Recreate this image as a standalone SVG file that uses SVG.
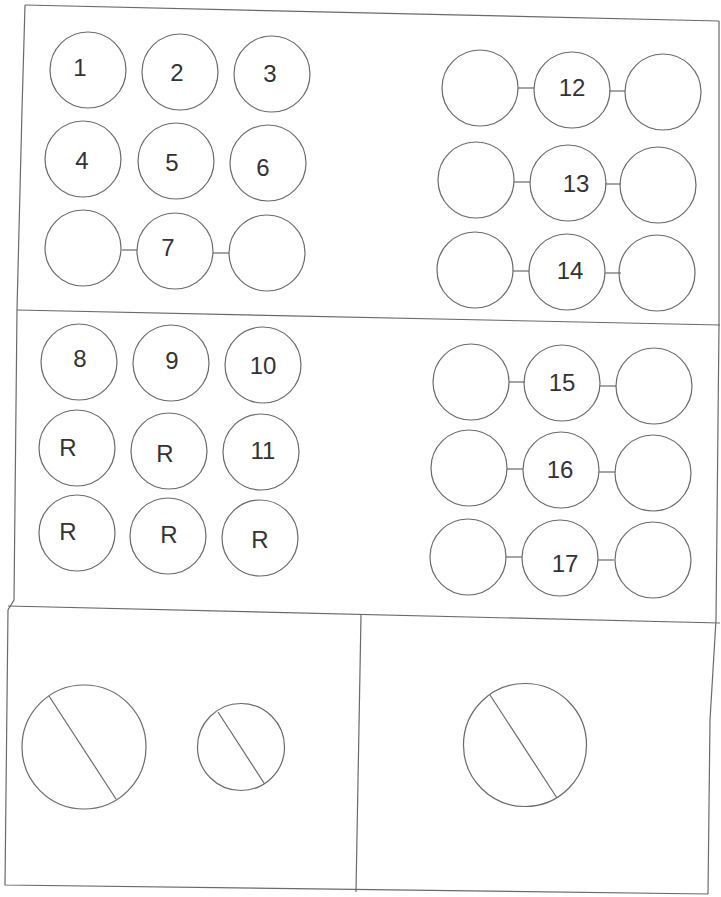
<svg xmlns="http://www.w3.org/2000/svg" width="721" height="897" viewBox="0 0 721 897">
<style>
.c{fill:none;stroke:#6a6a6a;stroke-width:1.2}
.l{fill:none;stroke:#6a6a6a;stroke-width:1.2}
.t{font-family:"Liberation Sans",Arial,sans-serif;font-size:24px;fill:#333;text-anchor:middle}
</style>
<rect width="721" height="897" fill="#fff"/>
<g id="frame">
<polyline class="l" points="25,5 719,21"/>
<polyline class="l" points="25,5 22,110 17,310 14,600 8,610 5,885 708,894"/>
<polyline class="l" points="719,21 719,325 716,620 710,720 708,894"/>
<polyline class="l" points="17,310 720,325"/>
<polyline class="l" points="8,606 720,623"/>
<polyline class="l" points="361,615 356,892"/>
</g>
<g id="connectors">
<line class="l" x1="122" y1="250" x2="137" y2="250"/>
<line class="l" x1="213" y1="253" x2="229" y2="253"/>
<line class="l" x1="518" y1="88" x2="534" y2="88"/>
<line class="l" x1="609" y1="91" x2="625" y2="91"/>
<line class="l" x1="514" y1="182" x2="530" y2="182"/>
<line class="l" x1="605" y1="184" x2="621" y2="184"/>
<line class="l" x1="513" y1="271" x2="529" y2="271"/>
<line class="l" x1="605" y1="273" x2="621" y2="273"/>
<line class="l" x1="509" y1="382" x2="525" y2="382"/>
<line class="l" x1="600" y1="386" x2="616" y2="386"/>
<line class="l" x1="507" y1="469" x2="523" y2="469"/>
<line class="l" x1="599" y1="472" x2="615" y2="472"/>
<line class="l" x1="506" y1="557" x2="522" y2="557"/>
<line class="l" x1="598" y1="560" x2="614" y2="560"/>
</g>
<g id="n1"><circle class="c" cx="88" cy="70" r="38"/><text class="t" x="80" y="76">1</text></g>
<g id="n2"><circle class="c" cx="180" cy="72" r="38"/><text class="t" x="177" y="81">2</text></g>
<g id="n3"><circle class="c" cx="272" cy="74" r="38"/><text class="t" x="270" y="82">3</text></g>
<g id="n4"><circle class="c" cx="83" cy="159" r="38"/><text class="t" x="82" y="169">4</text></g>
<g id="n5"><circle class="c" cx="176" cy="161" r="38"/><text class="t" x="172" y="171">5</text></g>
<g id="n6"><circle class="c" cx="268" cy="163" r="38"/><text class="t" x="263" y="176">6</text></g>
<g id="n7l"><circle class="c" cx="83" cy="248" r="38"/></g>
<g id="n7"><circle class="c" cx="175" cy="251" r="38"/><text class="t" x="168" y="256">7</text></g>
<g id="n7r"><circle class="c" cx="267" cy="253" r="38"/></g>
<g id="n12l"><circle class="c" cx="480" cy="88" r="38"/></g>
<g id="n12"><circle class="c" cx="572" cy="90" r="38"/><text class="t" x="572" y="96">12</text></g>
<g id="n12r"><circle class="c" cx="663" cy="92" r="38"/></g>
<g id="n13l"><circle class="c" cx="476" cy="180" r="38"/></g>
<g id="n13"><circle class="c" cx="568" cy="183" r="38"/><text class="t" x="576" y="192">13</text></g>
<g id="n13r"><circle class="c" cx="658" cy="185" r="38"/></g>
<g id="n14l"><circle class="c" cx="475" cy="270" r="38"/></g>
<g id="n14"><circle class="c" cx="567" cy="272" r="38"/><text class="t" x="570" y="279">14</text></g>
<g id="n14r"><circle class="c" cx="657" cy="273" r="38"/></g>
<g id="n8"><circle class="c" cx="79" cy="362" r="38"/><text class="t" x="80" y="367">8</text></g>
<g id="n9"><circle class="c" cx="171" cy="363" r="38"/><text class="t" x="172" y="369">9</text></g>
<g id="n10"><circle class="c" cx="263" cy="365" r="38"/><text class="t" x="263" y="374">10</text></g>
<g id="nR1"><circle class="c" cx="77" cy="448" r="38"/><text class="t" x="68" y="456">R</text></g>
<g id="nR2"><circle class="c" cx="169" cy="451" r="38"/><text class="t" x="165" y="462">R</text></g>
<g id="n11"><circle class="c" cx="261" cy="452" r="38"/><text class="t" x="263" y="459">11</text></g>
<g id="nR3"><circle class="c" cx="77" cy="533" r="38"/><text class="t" x="68" y="540">R</text></g>
<g id="nR4"><circle class="c" cx="168" cy="536" r="38"/><text class="t" x="169" y="543">R</text></g>
<g id="nR5"><circle class="c" cx="260" cy="538" r="38"/><text class="t" x="260" y="548">R</text></g>
<g id="n15l"><circle class="c" cx="471" cy="382" r="38"/></g>
<g id="n15"><circle class="c" cx="562" cy="383" r="38"/><text class="t" x="562" y="391">15</text></g>
<g id="n15r"><circle class="c" cx="654" cy="386" r="38"/></g>
<g id="n16l"><circle class="c" cx="469" cy="468" r="38"/></g>
<g id="n16"><circle class="c" cx="561" cy="470" r="38"/><text class="t" x="560" y="478">16</text></g>
<g id="n16r"><circle class="c" cx="653" cy="473" r="38"/></g>
<g id="n17l"><circle class="c" cx="468" cy="557" r="38"/></g>
<g id="n17"><circle class="c" cx="560" cy="558" r="38"/><text class="t" x="565" y="572">17</text></g>
<g id="n17r"><circle class="c" cx="653" cy="560" r="38"/></g>
<g id="d1"><circle class="c" cx="84" cy="747" r="62"/><line class="l" x1="49" y1="696" x2="116" y2="799"/></g>
<g id="d2"><circle class="c" cx="241" cy="747" r="43.5"/><line class="l" x1="218" y1="712" x2="264" y2="783"/></g>
<g id="d3"><circle class="c" cx="525" cy="745" r="61.5"/><line class="l" x1="490" y1="695" x2="557" y2="798"/></g>
</svg>
